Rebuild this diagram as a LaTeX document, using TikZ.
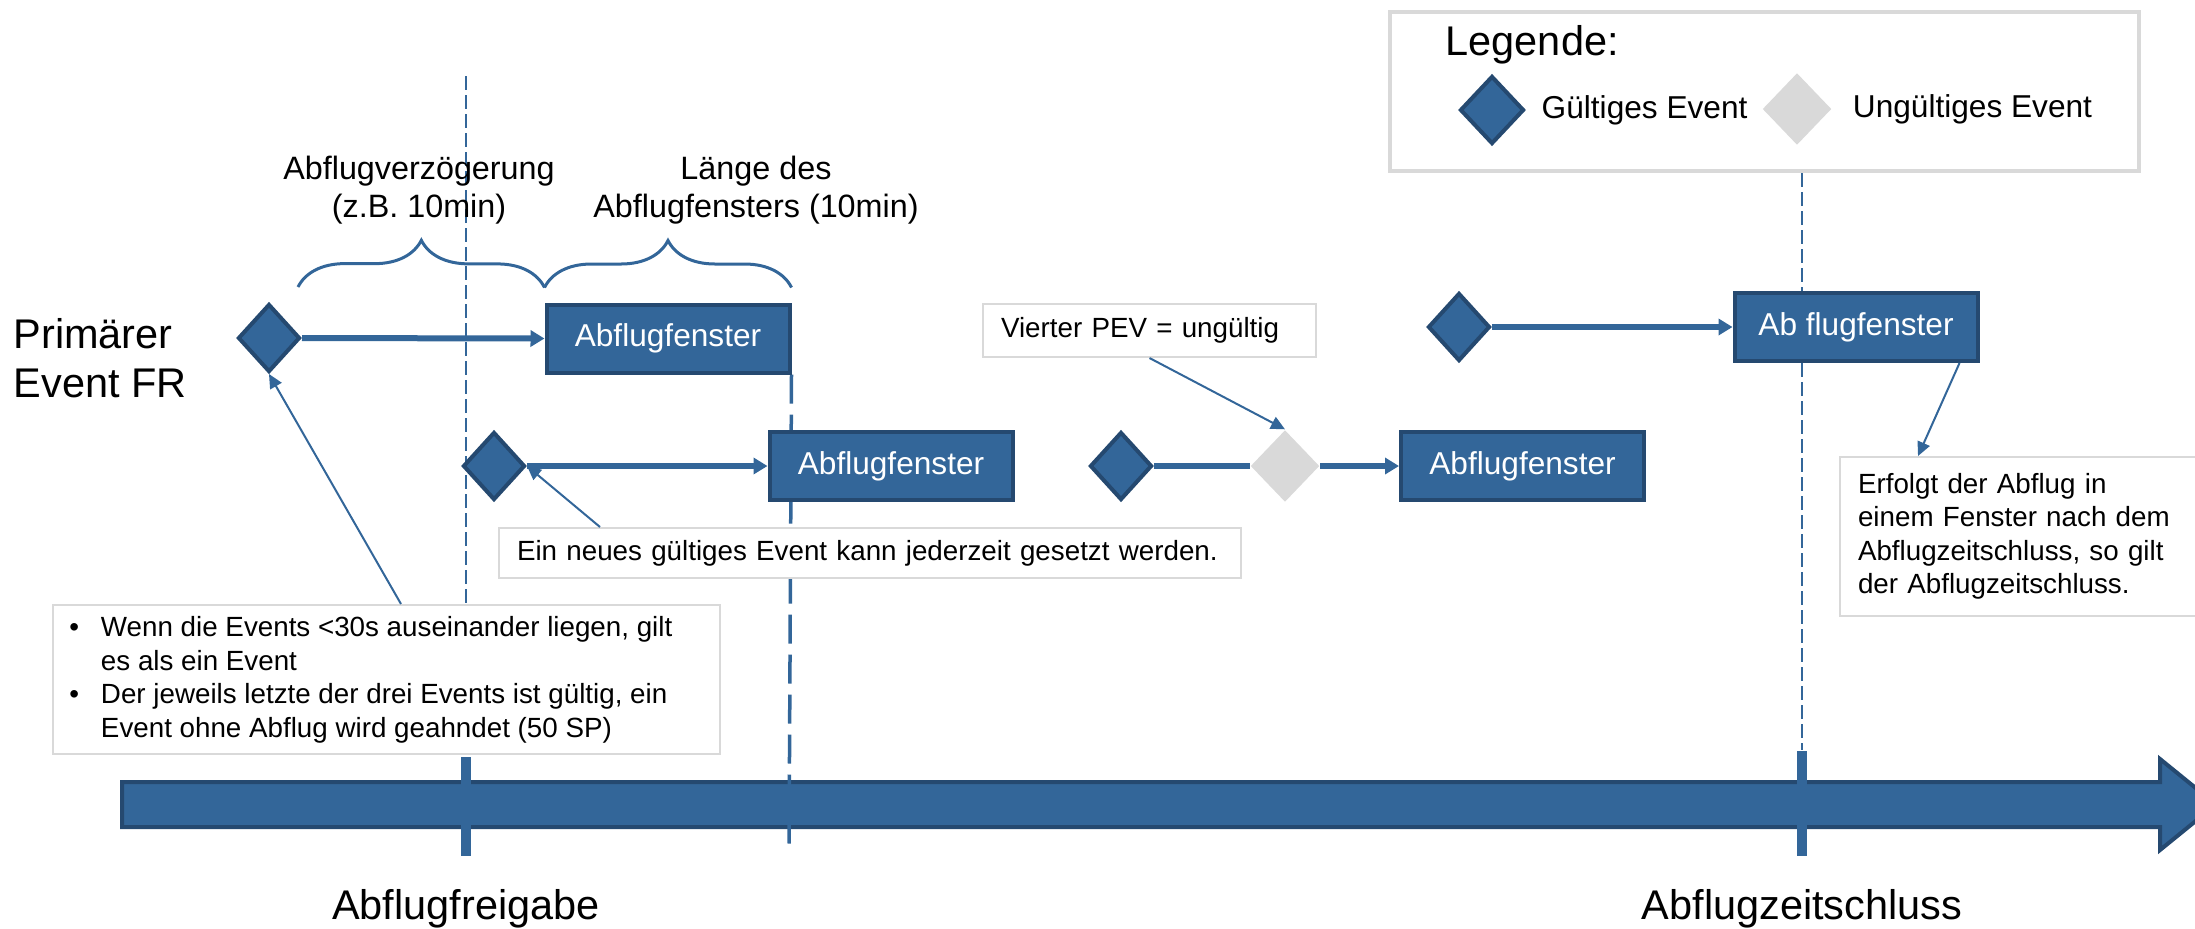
\documentclass[tikz,border=0pt]{standalone}
\usepackage{fontspec}
\setmainfont{Liberation Sans}
\usetikzlibrary{arrows.meta, positioning, shapes.geometric}
\usetikzlibrary{decorations.pathreplacing, backgrounds}
\definecolor{evblue}{RGB}{51,102,153}
\definecolor{evdark}{RGB}{37,73,112}
\definecolor{evgray}{RGB}{217,217,217}
\newcommand{\bul}{\llap{\textbullet\hspace{2.2mm}}}

\begin{document}
\begin{tikzpicture}[x=0.1mm, y=-0.1mm,
evt/.style = {% valid event
diamond, draw=evdark, fill=evblue, line width=0.4mm, inner sep=0pt,
minimum width=6.2mm, minimum height=6.8mm},
bad/.style = {% invalid event
diamond, fill=evgray, inner sep=0pt, minimum width=6.9mm, minimum height=7.2mm},
win/.style = {% departure window
rectangle, draw=evdark, fill=evblue, line width=0.4mm, minimum width=24.3mm,
minimum height=6.8mm, text=white, font=\fontsize{9}{11}\selectfont},
note/.style = {rectangle, draw=evgray, line width=0.2mm, fill=white, align=left,
inner xsep=1.8mm, font=\fontsize{7.9}{9.5}\selectfont},
FA/.style = {% flow arrow
draw=evblue, line width=0.6mm, -{Triangle[length=1.4mm, width=1.6mm]}},
PA/.style = {% pointer arrow
draw=evblue, line width=0.2mm, -{Triangle[length=1.4mm, width=1.3mm]}},
DL/.style = {draw=evblue, line width=0.15mm, dash pattern=on 1.4mm off 0.5mm},
tick/.style = {rectangle, fill=evblue, inner sep=0pt, minimum width=1mm},
big/.style = {inner sep=0pt, font=\fontsize{11.8}{13.9}\selectfont},
mid/.style = {inner sep=0pt, align=center, font=\fontsize{9.2}{10.8}\selectfont},
leg/.style = {inner sep=0pt, font=\fontsize{9}{11}\selectfont}]
\useasboundingbox (0,0) rectangle (2195,928);
% events and windows
\node[evt] (E1) at (269,338) {};
\node[win] (W1) at (668,338.5) {Abflugfenster};
\node[evt] (E2) at (494,466) {};
\node[win] (W2) at (891,466) {Abflugfenster};
\node[evt] (E3) at (1121,466) {};
\node[bad] (G3) at (1285,466) {};
\node[win] (W3) at (1522.5,466) {Abflugfenster};
\node[evt] (E4) at (1459,327) {};
\node[win] (W4) at (1856,327) {Ab flugfenster};
\draw[FA] (E1.east) -- (W1.west);
\draw[FA] (E2.east) -- (W2.west);
\draw[draw=evblue, line width=0.6mm] (E3.east) -- (G3.west);
\draw[FA] (G3.east) -- (W3.west);
\draw[FA] (E4.east) -- (W4.west);
% braces
\coordinate (B0) at (298,287);
\draw[evblue, line width=0.3mm, decorate, decoration={brace, amplitude=4.7mm}]
  (B0) -- ([yshift=1.5mm]W1.north west);
\draw[evblue, line width=0.3mm, decorate, decoration={brace, amplitude=4.7mm}]
  ([yshift=1.5mm]W1.north west) -- ([yshift=1.5mm]W1.north east);
\node[mid] (D1) at (419,190.6) {Abflugverzögerung\\(z.B. 10min)};
\node[mid] (D2) at (756,190.6) {Länge des\\Abflugfensters (10min)};
\node[big, align=left, anchor=west] (PE) at (13,358) {Primärer\\Event FR};
% legend
\node[draw=evgray, line width=0.4mm, fill=white, inner sep=0pt,
  minimum width=74.9mm, minimum height=15.9mm] (Leg) at (1764.5,91.5) {};
\node[big, anchor=base west] (LgT) at (1445,55) {Legende:};
\node[evt, minimum width=6.4mm] (L1) at (1492,110) {};
\node[leg, right=1.5mm of L1] (L1T) {Gültiges Event};
\node[bad] (L2) at (1797,109) {};
\node[leg, right=2mm of L2] (L2T) {Ungültiges Event};
% time axis
\node[tick, minimum height=9.9mm] (T1) at (466,806.5) {};
\node[tick, minimum height=10.5mm] (T2) at (1802,803.5) {};
\node[big, below=3.2mm of T1] (TL1) {Abflugfreigabe};
\node[big, below=3.2mm of T2] (TL2) {Abflugzeitschluss};
% notes
\node[note, inner xsep=4.8mm, minimum width=66.7mm, minimum height=14.4mm,
  anchor=north west] (N1) at (52,604)
  {\bul Wenn die Events <30s auseinander liegen, gilt\\es als ein Event\\
   \bul Der jeweils letzte der drei Events ist gültig, ein\\Event ohne Abflug wird geahndet (50 SP)};
\node[note, text width=70.6mm, minimum height=5mm, anchor=north west] (N2) at (498,527)
  {Ein neues gültiges Event kann jederzeit gesetzt werden.};
\node[note, text width=29.7mm, minimum height=5.3mm, anchor=north west] (N3) at (982,303)
  {Vierter PEV = ungültig};
\node[note, text width=33.2mm, minimum height=15.9mm, anchor=north west] (N4) at (1839,456)
  {Erfolgt der Abflug in\\einem Fenster nach dem\\Abflugzeitschluss, so gilt\\der Abflugzeitschluss.};
\draw[PA] ([xshift=34.9mm]N1.north west) -- (E1.south);
\draw[PA] ([xshift=10.2mm]N2.north west) -- (E2.east);
\draw[PA] (N3.south) -- (G3.north);
\draw[PA] ([xshift=-2mm]W4.south east) -- ([xshift=7.9mm]N4.north west);
% axis and guide lines behind
\begin{scope}[on background layer]
\draw[draw=evdark, fill=evblue, line width=0.4mm]
  (122,782) -- (2160,782) -- (2160,759) -- (2216,804.5) -- (2160,850)
  -- (2160,827) -- (122,827) -- cycle;
\coordinate (A0) at (466,76);
\coordinate (B1) at (789,850);
\draw[DL] (A0) -- (T1.north);
\draw[DL] (Leg.south -| T2.north) -- (T2.north);
\draw[draw=evblue, line width=0.35mm, dash pattern=on 2.9mm off 1.1mm]
  (W1.south east) -- (B1);
\end{scope}
\end{tikzpicture}
\end{document}
